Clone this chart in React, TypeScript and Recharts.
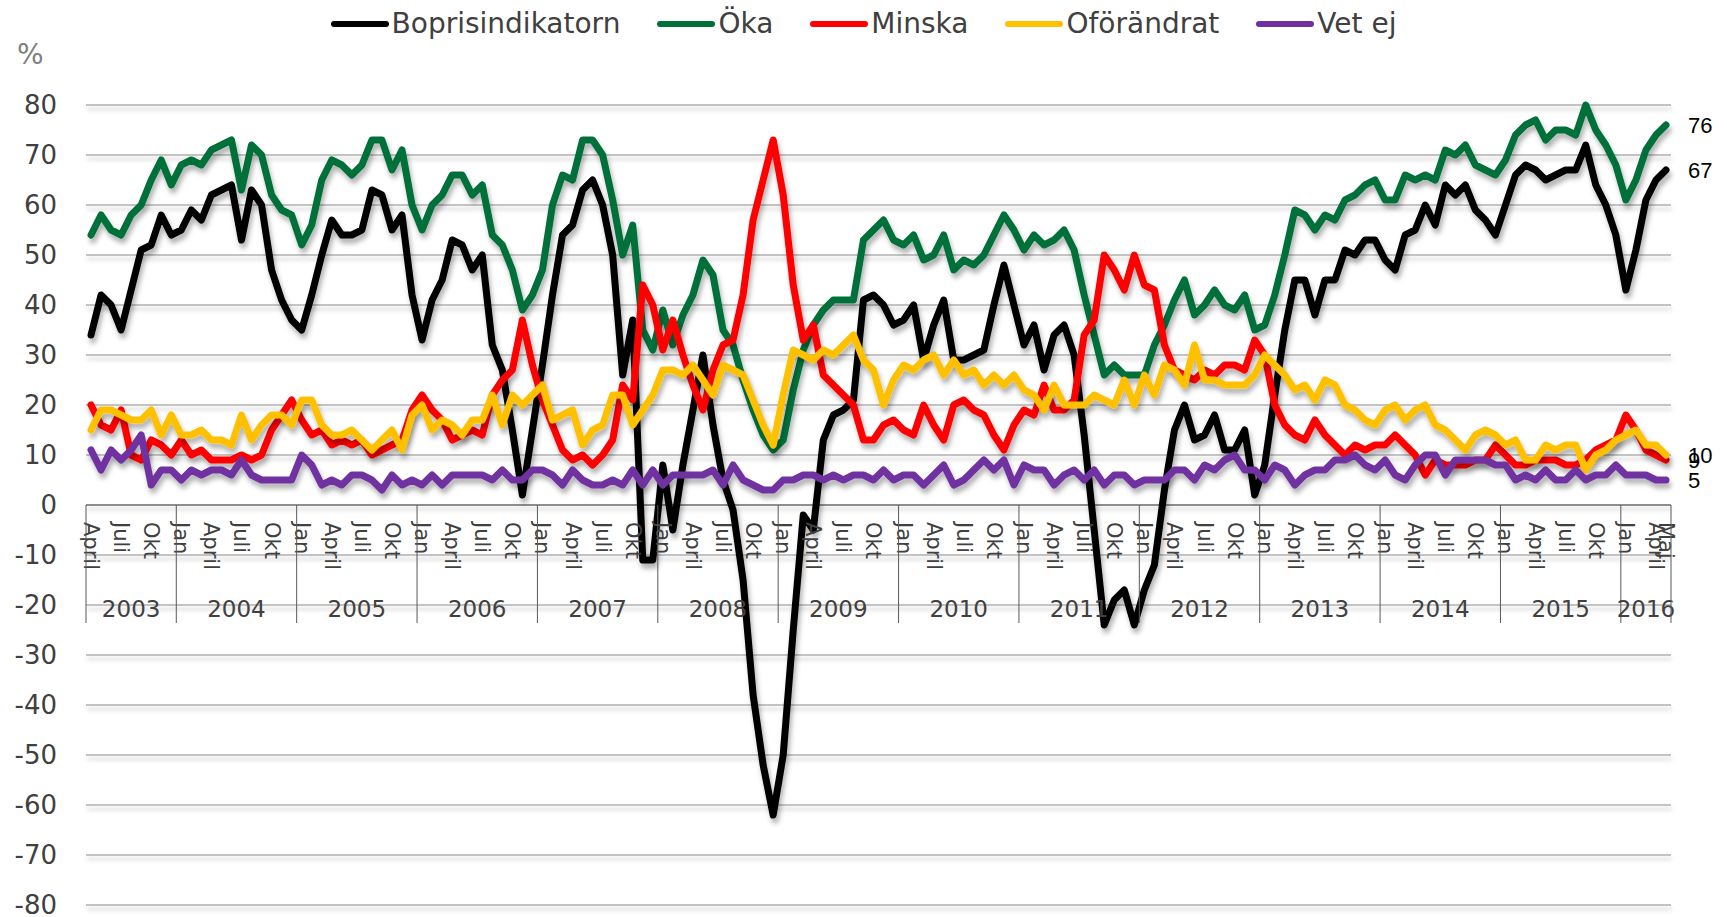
import { LineChart, Line, XAxis, YAxis, CartesianGrid, ReferenceDot, ReferenceLine } from 'recharts'

const FONT = '"DejaVu Sans", Verdana, sans-serif'
const TEXT = '#404040'

const WIDTH = 1727
const HEIGHT = 917
const MARGIN = { top: 105, right: 56, bottom: 12, left: 0 }
const Y_AXIS_W = 86

// monthly series, April 2003 – Maj 2016
const START_YEAR = 2003
const START_MONTH = 3 // april, 0-based
const MONTH_NAMES = ['Jan', 'Feb', 'Mars', 'April', 'Maj', 'Juni', 'Juli', 'Aug', 'Sep', 'Okt', 'Nov', 'Dec']

const bopris = [
  34, 42, 40, 35, 43, 51, 52, 58, 54,
  55, 59, 57, 62, 63, 64, 53, 63, 60, 47, 41, 37,
  35, 42, 50, 57, 54, 54, 55, 63, 62, 55, 58, 42,
  33, 41, 45, 53, 52, 47, 50, 32, 27, 15, 2, 15,
  28, 42, 54, 56, 63, 65, 60, 50, 26, 37, -11, -11,
  8, -5, 8, 19, 30, 16, 5, -1, -15, -38, -52, -62,
  -50, -25, -2, -5, 13, 18, 19, 21, 41, 42, 40, 36,
  37, 40, 29, 36, 41, 29, 29, 30, 31, 40, 48, 40,
  32, 36, 27, 34, 36, 30, 14, -5, -24, -19, -17, -24,
  -17, -12, 3, 15, 20, 13, 14, 18, 11, 11, 15, 2,
  8, 22, 35, 45, 45, 38, 45, 45, 51, 50, 53, 53,
  49, 47, 54, 55, 60, 56, 64, 62, 64, 59, 57, 54,
  60, 66, 68, 67, 65, 66, 67, 67, 72, 64, 60, 54,
  43, 51, 61, 65, 67,
]

const oka = [
  54, 58, 55, 54, 58, 60, 65, 69, 64,
  68, 69, 68, 71, 72, 73, 63, 72, 70, 62, 59, 58,
  52, 56, 65, 69, 68, 66, 68, 73, 73, 67, 71, 60,
  55, 60, 62, 66, 66, 62, 64, 54, 52, 47, 39, 42,
  47, 60, 66, 65, 73, 73, 70, 61, 50, 56, 35, 31,
  39, 32, 38, 42, 49, 46, 35, 32, 25, 19, 14, 11,
  13, 23, 31, 36, 39, 41, 41, 41, 53, 55, 57, 53,
  52, 54, 49, 50, 54, 47, 49, 48, 50, 54, 58, 55,
  51, 54, 52, 53, 55, 51, 42, 34, 26, 28, 26, 26,
  26, 32, 36, 41, 45, 38, 40, 43, 40, 39, 42, 35,
  36, 42, 50, 59, 58, 55, 58, 57, 61, 62, 64, 65,
  61, 61, 66, 65, 66, 65, 71, 70, 72, 68, 67, 66,
  69, 74, 76, 77, 73, 75, 75, 74, 80, 75, 72, 68,
  61, 65, 71, 74, 76,
]

const minska = [
  20, 16, 15, 19, 10, 9, 13, 12, 10,
  13, 10, 11, 9, 9, 9, 10, 9, 10, 15, 18, 21,
  17, 14, 15, 12, 13, 12, 13, 10, 11, 12, 13, 19,
  22, 19, 17, 13, 14, 15, 14, 22, 25, 27, 37, 28,
  21, 16, 11, 9, 10, 8, 10, 13, 24, 21, 44, 40,
  31, 37, 30, 24, 19, 27, 32, 33, 42, 57, 65, 73,
  62, 44, 33, 36, 26, 24, 22, 20, 13, 13, 16, 17,
  15, 14, 20, 16, 13, 20, 21, 19, 18, 14, 11, 16,
  19, 18, 24, 19, 19, 21, 34, 37, 50, 47, 43, 50,
  44, 43, 32, 27, 26, 25, 27, 26, 28, 28, 27, 33,
  30, 20, 16, 14, 13, 17, 14, 12, 10, 12, 11, 12,
  12, 14, 12, 10, 6, 9, 8, 8, 8, 9, 9, 12,
  10, 8, 8, 9, 9, 9, 8, 8, 9, 11, 12, 13,
  18, 15, 11, 10, 9,
]

const oforandrat = [
  15, 19, 19, 18, 17, 17, 19, 14, 18,
  14, 14, 15, 13, 13, 12, 18, 13, 16, 18, 18, 16,
  21, 21, 16, 14, 14, 15, 13, 11, 13, 15, 11, 18,
  20, 15, 17, 16, 14, 17, 17, 22, 16, 22, 20, 22,
  24, 17, 18, 19, 12, 15, 16, 22, 22, 16, 19, 22,
  27, 27, 26, 28, 25, 22, 28, 27, 26, 21, 16, 12,
  22, 31, 30, 29, 31, 30, 32, 34, 29, 27, 20, 25,
  28, 27, 29, 30, 26, 29, 26, 27, 24, 26, 24, 26,
  23, 22, 19, 24, 20, 20, 20, 22, 21, 20, 25, 20,
  26, 22, 28, 27, 24, 32, 25, 25, 24, 24, 24, 26,
  30, 28, 26, 23, 24, 21, 25, 24, 20, 19, 17, 16,
  19, 20, 17, 19, 20, 16, 15, 13, 11, 14, 15, 14,
  12, 13, 9, 9, 12, 11, 12, 12, 7, 10, 11, 13,
  14, 15, 12, 12, 10,
]

const vetEj = [
  11, 7, 11, 9, 11, 14, 4, 7, 7,
  5, 7, 6, 7, 7, 6, 9, 6, 5, 5, 5, 5,
  10, 8, 4, 5, 4, 6, 6, 5, 3, 6, 4, 5,
  4, 6, 4, 6, 6, 6, 6, 5, 7, 5, 5, 7,
  7, 6, 4, 7, 5, 4, 4, 5, 4, 7, 4, 7,
  4, 6, 6, 6, 6, 7, 4, 8, 5, 4, 3, 3,
  5, 5, 6, 6, 5, 6, 5, 6, 6, 5, 7, 5,
  6, 6, 4, 6, 8, 4, 5, 7, 9, 7, 9, 4,
  8, 7, 7, 4, 6, 7, 5, 7, 4, 6, 6, 4,
  5, 5, 5, 7, 7, 5, 8, 7, 9, 10, 7, 7,
  5, 8, 7, 4, 6, 7, 7, 9, 9, 10, 8, 7,
  9, 6, 5, 8, 10, 10, 6, 9, 9, 9, 9, 8,
  8, 5, 6, 5, 7, 5, 5, 7, 5, 6, 6, 8,
  6, 6, 6, 5, 5,
]

const Y_TICKS = [-80, -70, -60, -50, -40, -30, -20, -10, 0, 10, 20, 30, 40, 50, 60, 70, 80]

const SERIES = [
  { key: 'bopris', name: 'Boprisindikatorn', color: '#000000', values: bopris },
  { key: 'oka', name: 'Öka', color: '#00703a', values: oka },
  { key: 'minska', name: 'Minska', color: '#ff0000', values: minska },
  { key: 'oforandrat', name: 'Oförändrat', color: '#ffc000', values: oforandrat },
  { key: 'vetEj', name: 'Vet ej', color: '#7030a0', values: vetEj },
]

const N = bopris.length
const BAND = (WIDTH - MARGIN.right - Y_AXIS_W) / N

const months = bopris.map((_, i) => {
  const t = START_MONTH + i
  const year = START_YEAR + Math.floor(t / 12)
  const month = t % 12
  return { key: `${year}-${month + 1}`, year, month }
})

const yearLength: Record<number, number> = {}
months.forEach((m) => {
  yearLength[m.year] = (yearLength[m.year] || 0) + 1
})

const data = months.map((m, i) => {
  const row: Record<string, any> = { key: m.key }
  SERIES.forEach((s) => {
    row[s.key] = s.values[i]
  })
  return row
})

// month label, year separator and year label drawn at the zero line
function AxisCell({ cx, cy, i }: { cx: number; cy: number; i: number }) {
  const m = months[i]
  const half = BAND / 2
  const showMonth = i % 3 === 0 || i === N - 1
  const yearStart = i === 0 || m.month === 0
  return (
    <g>
      {showMonth && (
        <text
          transform={`translate(${cx},${cy + 17}) rotate(90)`}
          textAnchor="start"
          dominantBaseline="central"
          fontSize={21}
          fontFamily={FONT}
          fill={TEXT}
        >
          {MONTH_NAMES[m.month]}
        </text>
      )}
      {yearStart && (
        <line x1={cx - half} x2={cx - half} y1={cy} y2={cy + 118} stroke="#595959" strokeWidth={1} />
      )}
      {yearStart && (
        <text
          x={cx + ((yearLength[m.year] - 1) / 2) * BAND}
          y={cy + 104}
          textAnchor="middle"
          dominantBaseline="central"
          fontSize={23}
          fontFamily={FONT}
          fill={TEXT}
        >
          {m.year}
        </text>
      )}
      {i === N - 1 && (
        <line x1={cx + half} x2={cx + half} y1={cy} y2={cy + 118} stroke="#595959" strokeWidth={1} />
      )}
    </g>
  )
}

const SHADOW_CSS = `
  .recharts-line-curve { filter: url(#lineShadow); }
  .recharts-cartesian-grid-horizontal line { filter: url(#gridShadow); }
`

export default function App() {
  const lastKey = months[N - 1].key
  return (
    <div style={{ position: 'absolute', left: 0, top: 0, width: WIDTH, height: HEIGHT, background: '#fff', fontFamily: FONT }}>
      <style>{SHADOW_CSS}</style>

      {/* legend */}
      <div
        style={{
          position: 'absolute',
          top: 10,
          left: 0,
          width: WIDTH,
          display: 'flex',
          justifyContent: 'center',
          alignItems: 'center',
          gap: 37,
          height: 28,
        }}
      >
        {SERIES.map((s) => (
          <div key={s.key} style={{ display: 'flex', alignItems: 'center' }}>
            <svg width={58} height={10} style={{ marginRight: 3 }}>
              <line x1={3} x2={55} y1={5} y2={5} stroke={s.color} strokeWidth={6} strokeLinecap="round" />
            </svg>
            <span style={{ fontSize: 28, lineHeight: '28px', color: TEXT }}>{s.name}</span>
          </div>
        ))}
      </div>

      <div style={{ position: 'absolute', left: 17, top: 41, fontSize: 28, lineHeight: '28px', color: '#7f7f7f' }}>%</div>

      <LineChart width={WIDTH} height={HEIGHT} data={data} margin={MARGIN}>
        <defs>
          <filter id="lineShadow" filterUnits="userSpaceOnUse" x={0} y={0} width={WIDTH} height={HEIGHT}>
            <feDropShadow dx={2} dy={5} stdDeviation={2.5} floodColor="#000" floodOpacity={0.3} />
          </filter>
          <filter id="gridShadow" filterUnits="userSpaceOnUse" x={0} y={0} width={WIDTH} height={HEIGHT}>
            <feDropShadow dx={1} dy={4} stdDeviation={2} floodColor="#000" floodOpacity={0.18} />
          </filter>
        </defs>
        <CartesianGrid vertical={false} stroke="#c3c3c3" strokeWidth={2} />
        <XAxis dataKey="key" scale="band" hide />
        <YAxis
          domain={[-80, 80]}
          ticks={Y_TICKS}
          interval={0}
          width={Y_AXIS_W}
          axisLine={false}
          tickLine={false}
          tickSize={0}
          tickMargin={29}
          tick={{ fill: TEXT, fontSize: 26, fontFamily: FONT }}
        />
        <ReferenceLine y={0} stroke="#595959" strokeWidth={1} />
        {months.map((m, i) => (
          <ReferenceDot
            key={`cell-${m.key}`}
            x={m.key}
            y={0}
            r={1}
            ifOverflow="visible"
            shape={(p: any) => <AxisCell cx={p.cx} cy={p.cy} i={i} />}
          />
        ))}
        {SERIES.map((s) => (
          <Line
            key={s.key}
            type="linear"
            dataKey={s.key}
            name={s.name}
            stroke={s.color}
            strokeWidth={7}
            strokeLinejoin="round"
            strokeLinecap="round"
            dot={false}
            activeDot={false}
            isAnimationActive={false}
          />
        ))}
        {SERIES.map((s) => (
          <ReferenceDot
            key={`end-${s.key}`}
            x={lastKey}
            y={s.values[N - 1]}
            r={1}
            ifOverflow="visible"
            shape={(p: any) => (
              <text
                x={p.cx + 22}
                y={p.cy}
                dominantBaseline="central"
                fontSize={22}
                fontFamily='"Liberation Sans", Arial, sans-serif'
                fill="#000"
              >
                {s.values[N - 1]}
              </text>
            )}
          />
        ))}
      </LineChart>
    </div>
  )
}
